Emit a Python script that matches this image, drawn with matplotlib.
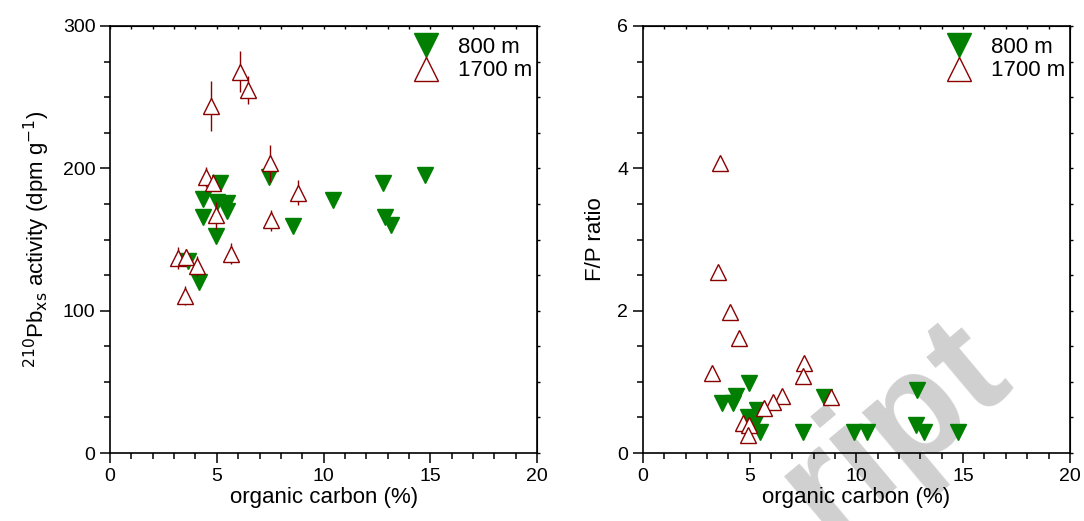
import numpy as np
import matplotlib
matplotlib.use("Agg")
import matplotlib.pyplot as plt
from matplotlib.ticker import MultipleLocator

plt.rcParams['font.family'] = ['Liberation Sans', 'DejaVu Sans']

# --- datos panel izquierdo: 210Pbxs vs carbono organico ---
oc_800_pb = [5.15, 7.46, 4.37, 4.99, 5.46, 5.46, 4.37, 4.96, 3.67, 4.18,
             8.55, 10.46, 12.77, 12.88, 13.16, 14.75]
pb_800 = [190, 194, 178.5, 176.5, 175.5, 170, 165.5, 152.5, 135, 120,
          159.5, 178, 189.5, 166, 160, 195]

oc_1700_pb = [6.09, 6.45, 4.73, 7.51, 4.50, 4.84, 4.96, 8.80, 7.53, 5.65,
              3.20, 3.56, 4.06, 3.53]
pb_1700 = [268, 255, 244, 203.5, 194, 190, 167, 183, 163.5, 140,
           137, 137.5, 131.5, 110.5]
pb_1700_err = [14.5, 10, 17.5, 13, 7, 6, 9.5, 9, 7.5, 7.3,
               7.7, 6, 7, 6.5]

# --- datos panel derecho: F/P vs carbono organico ---
oc_800_fp = [4.99, 3.70, 4.21, 4.37, 5.33, 4.94, 5.26, 5.49, 7.49, 8.50,
             9.89, 10.48, 12.85, 12.79, 13.18, 14.77]
fp_800 = [0.99, 0.70, 0.70, 0.80, 0.60, 0.51, 0.42, 0.29, 0.29, 0.79,
          0.29, 0.29, 0.88, 0.39, 0.29, 0.29]

oc_1700_fp = [3.62, 3.54, 4.09, 4.52, 3.23, 7.55, 7.52, 6.50, 6.11, 5.69,
              8.81, 4.71, 4.99, 4.91]
fp_1700 = [4.08, 2.54, 1.98, 1.61, 1.13, 1.27, 1.08, 0.80, 0.72, 0.63,
           0.79, 0.42, 0.40, 0.25]

verde = '#007f00'
rojo = '#8b0000'

fig = plt.figure(figsize=(10.84, 5.21), dpi=100)
ax1 = fig.add_axes([0.1015, 0.1305, 0.394, 0.8196])
ax2 = fig.add_axes([0.593, 0.1305, 0.394, 0.8196])

# marca de agua (solo se ve el final de la palabra)
fig.text(0.936, 0.27, 'ript', fontsize=110, fontweight='bold',
         color='#d0d0d0', rotation=40, rotation_mode='anchor',
         ha='right', va='baseline', zorder=-1)

for ax in (ax1, ax2):
    ax.set_facecolor('none')
    for s in ax.spines.values():
        s.set_linewidth(1.2)
    ax.set_xlim(0, 20)
    ax.xaxis.set_major_locator(MultipleLocator(5))
    ax.xaxis.set_minor_locator(MultipleLocator(1))
    ax.tick_params(which='major', direction='out', length=7, width=1.1,
                   labelsize=14)
    ax.tick_params(which='minor', direction='out', length=4, width=1.1)
    ax.set_xlabel('organic carbon (%)', fontsize=16, labelpad=2)
    sx = ax.secondary_xaxis('top')
    sx.xaxis.set_major_locator(MultipleLocator(1))
    sx.tick_params(direction='in', length=2.5, width=1, labeltop=False)
    sy = ax.secondary_yaxis('right')
    sy.tick_params(direction='out', length=2.5, width=1, labelright=False)

# panel izquierdo
ax1.plot(oc_800_pb, pb_800, linestyle='none', marker='v', markersize=11,
         color=verde, markeredgecolor=verde, label='800 m', zorder=3)
ax1.errorbar(oc_1700_pb, pb_1700, yerr=pb_1700_err, fmt='^', markersize=11,
             color=rojo, ecolor=rojo, elinewidth=1, capsize=0,
             markerfacecolor='white', markeredgecolor=rojo,
             markeredgewidth=1, label='1700 m', zorder=4)
ax1.set_ylim(0, 300)
ax1.yaxis.set_major_locator(MultipleLocator(100))
ax1.yaxis.set_minor_locator(MultipleLocator(25))
ax1.child_axes[1].yaxis.set_major_locator(MultipleLocator(25))
ax1.set_ylabel(r'$^{210}$Pb$_{\mathrm{xs}}$ activity (dpm g$^{-1}$)',
               fontsize=16, labelpad=8)

# panel derecho
ax2.plot(oc_800_fp, fp_800, linestyle='none', marker='v', markersize=11,
         color=verde, label='800 m', zorder=3)
ax2.plot(oc_1700_fp, fp_1700, linestyle='none', marker='^', markersize=11,
         color=rojo, markerfacecolor='white', markeredgewidth=1,
         label='1700 m', zorder=4)
ax2.set_ylim(0, 6)
ax2.yaxis.set_major_locator(MultipleLocator(2))
ax2.yaxis.set_minor_locator(MultipleLocator(0.5))
ax2.child_axes[1].yaxis.set_major_locator(MultipleLocator(0.5))
ax2.set_ylabel('F/P ratio', fontsize=16, labelpad=8)

for ax in (ax1, ax2):
    h, l = ax.get_legend_handles_labels()
    ax.legend(h, l, loc='upper right', frameon=False, fontsize=16,
              markerscale=1.6, handlelength=1.0, handletextpad=0.95,
              labelspacing=0.1, borderaxespad=0.1,
              bbox_to_anchor=(1.015, 1.0))

fig.savefig('out.png', dpi=100, facecolor='white')
